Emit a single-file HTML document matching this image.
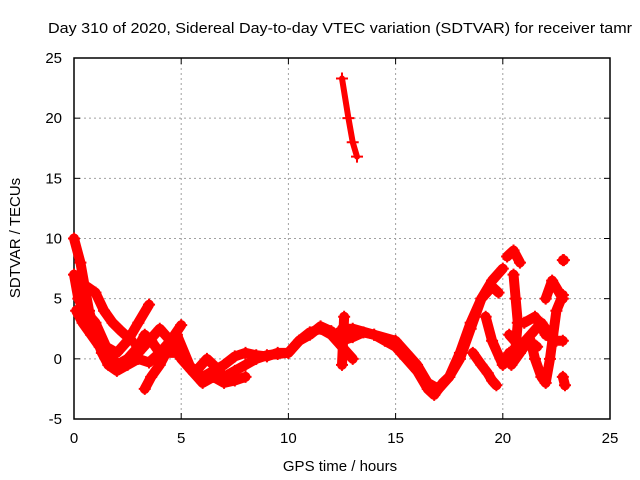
<!DOCTYPE html>
<html><head><meta charset="utf-8"><style>
body{margin:0;background:#fff;}
svg{display:block;font-family:"Liberation Sans",sans-serif;}
</style></head><body>
<svg id="chart" width="640" height="480" xmlns="http://www.w3.org/2000/svg">
<rect width="640" height="480" fill="#fff"/>
<text x="340" y="33" font-size="15" text-anchor="middle" textLength="584" lengthAdjust="spacingAndGlyphs">Day 310 of 2020, Sidereal Day-to-day VTEC variation (SDTVAR) for receiver tamr</text>
<text x="340" y="471" font-size="15" text-anchor="middle">GPS time / hours</text>
<text transform="translate(20,238) rotate(-90)" font-size="15" text-anchor="middle">SDTVAR / TECUs</text>
<g id="grid"></g><g id="axes"></g><g id="marks"></g>
</svg>
<script>
const xTicks=[0,5,10,15,20,25];
const yTicks=[-5,0,5,10,15,20,25];
const trackHours=[
[0.0,0.3,0.5,0.7,1.0,1.3,1.6,2.0,2.5,3.0,3.5,4.0,4.5,5.0],
[0.0,0.2,0.5,1.0,1.5,2.0,2.5,3.0,3.5],
[0.6,1.0,1.4,1.8,2.2,2.7],
[2.5,3.0,3.5,4.0,4.5,5.0,5.5,6.0,6.5,7.0,7.5,8.0,8.5,9.0,9.5,10,10.5,11,11.5,12,12.5,13],
[3.3,3.6,4.0,4.3,4.8,5.3,5.7,6.2,6.5,7.0,7.5,8.0,8.5,9.0,9.5,10,10.5,11,11.5,12,12.5,13,13.5,14,14.5,15,15.5,16,16.5,16.8,17.2,17.5,18,18.5,19,19.5,20],
[12.5,13,14,15,15.5,16,16.5,17,17.5,18,18.5,19,19.5,19.8],
[18.6,19.0,19.3,19.5,19.7],
[19.2,19.5,20.0,20.3],
[20.2,20.5,20.8],
[20.5,20.6,20.7,20.6,20.5],
[21.0,21.5,22.0,22.5,22.8],
[21.3,21.5,21.8,22.0,22.2,22.5,22.8],
[22.0,22.3,22.8],
[22.8,22.9],
[22.8,22.85],
[12.5,12.8,13.0,13.2],
[0.1,0.4,0.8,1.2,1.5,1.9],
[1.5,2.0,2.5,3.0,3.3,3.6,4.0],
[4.8,5.5,6.0,6.5,7.0,7.5,8.0],
[12.5,12.55,12.6],
[20.3,20.8,21.3,21.8,22.0,22.3],
[20.4,20.8,21.2,21.6]
];
const trackValues=[
[10,8,6,4,2,0.5,-0.5,-1,-0.5,0,-0.3,0.5,1.5,2.8],
[7,5,4,3,1,0.5,1.5,3,4.5],
[6,5.5,4,3,2.3,1.5],
[0,0.5,1.5,2.5,1.5,0,-1,-1.5,-1,-0.5,0.2,0.5,0.3,0.2,0.5,0.5,1.5,2.2,2.5,2,1,0],
[-2.5,-1.5,-0.5,0.5,0.5,-0.5,-1,0,-0.5,-1.5,-1,-0.5,0,0.3,0.4,0.5,1.5,2,2.7,2.3,1.5,1.8,2.2,2,1.5,1,0,-1,-2.5,-3,-2,-1.5,0,2.5,5,6.5,7.5],
[2.5,2.5,2,1.5,0.5,-0.5,-2,-2.5,-1.5,0.5,3,5,6,5.5],
[0.5,-0.5,-1.2,-1.8,-2.2],
[3.5,1.5,-0.5,0.5],
[8.5,9,8],
[7,5,3,1,0],
[3,3.5,2,1.5,1.5],
[1.5,0,-1.5,-2,0,4,5.3],
[5,6.5,5],
[-1.5,-2.2],
[8.2,8.2],
[23.3,20,18,16.8],
[4,3,2,1,0,-0.5],
[1,-0.5,0,1,2,1.5,0.5],
[2,-1,-2,-1.5,-2,-1.8,-1.5],
[-0.5,1.5,3.5],
[2,1,2,3,2.5,2],
[-0.5,0.5,1.5,1]
];
const X0=74,X1=610,Y0=419,Y1=58;
const xs=h=>X0+(h-0)/25*(X1-X0);
const ys=v=>Y0-(v+5)/30*(Y0-Y1);
const NS="http://www.w3.org/2000/svg";
function mk(tag,attrs,parent){const e=document.createElementNS(NS,tag);for(const k in attrs)e.setAttribute(k,attrs[k]);parent.appendChild(e);return e;}
const grid=document.getElementById('grid'),axes=document.getElementById('axes'),marks=document.getElementById('marks');
xTicks.forEach(t=>{
  const x=xs(t);
  if(t>0&&t<25){const g=mk('line',{x1:x,x2:x,y1:Y1,y2:Y0,stroke:'#a0a0a0','stroke-dasharray':'2,3'},grid);
  
  }
  mk('line',{x1:x,x2:x,y1:Y0,y2:Y0-6,stroke:'#000'},axes);
  mk('line',{x1:x,x2:x,y1:Y1,y2:Y1+6,stroke:'#000'},axes);
  const l=mk('text',{x:x,y:443,'font-size':15,'text-anchor':'middle'},axes);l.textContent=t;
  
  
});
yTicks.forEach(t=>{
  const y=ys(t);
  if(t>-5&&t<25){const g=mk('line',{x1:X0,x2:X1,y1:y,y2:y,stroke:'#a0a0a0','stroke-dasharray':'2,3'},grid);
  
  }
  mk('line',{x1:X0,x2:X0+6,y1:y,y2:y,stroke:'#000'},axes);
  mk('line',{x1:X1,x2:X1-6,y1:y,y2:y,stroke:'#000'},axes);
  const l=mk('text',{x:62,y:y+5,'font-size':15,'text-anchor':'end'},axes);l.textContent=t;
  
  
});
const fr=mk('rect',{x:X0,y:Y1,width:X1-X0,height:Y0-Y1,fill:'none',stroke:'#000','stroke-width':1.5},axes);


trackHours.forEach((hs,i)=>{
  const vs=trackValues[i];
  const pts=hs.map((h,j)=>xs(h)+','+ys(vs[j])).join(' ');
  const p=mk('polyline',{points:pts,fill:'none',stroke:'#ff0000','stroke-width':i==15?6:10,'stroke-linejoin':'round','stroke-linecap':'round'},marks);
  
  
  hs.forEach((h,j)=>{
    const x=xs(h),y=ys(vs[j]);
    const m=mk('path',{d:`M${x-6},${y}H${x+6}M${x},${y-6}V${y+6}`,stroke:'#ff0000','stroke-width':2},marks);
    
    
  });
});
</script>
</body></html>
